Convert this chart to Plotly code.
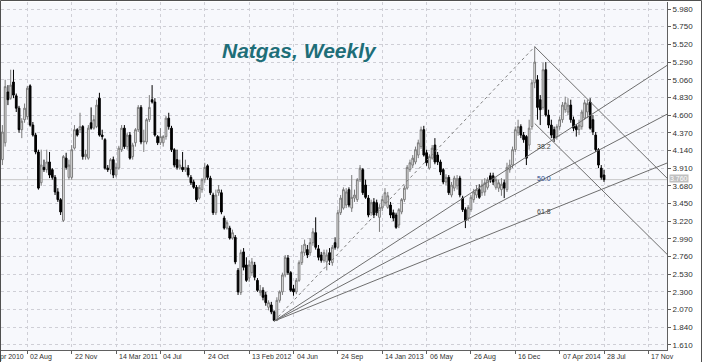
import plotly.graph_objects as go
import pandas as pd

# ---------------- data (weekly OHLC) ----------------
first_week = "2010-05-31"

opens = [4.02,4.24,4.90,4.82,5.03,4.85,4.69,4.41,4.54,4.58,4.98,4.47,4.34,4.12,3.72,3.92,3.89,3.99,3.89,3.79,
         3.60,3.50,3.23,4.04,3.79,3.79,4.17,4.41,4.41,4.45,4.06,4.04,4.50,4.43,4.45,4.82,4.34,4.28,3.91,3.89,
         4.02,3.82,3.91,4.15,4.43,4.19,4.34,4.06,4.24,4.41,4.70,4.25,4.25,4.54,4.80,4.77,4.32,4.24,4.24,4.32,
         4.56,4.43,4.15,4.02,3.91,3.92,3.89,3.91,3.79,3.73,3.66,3.52,3.63,3.76,3.94,3.78,3.56,3.33,3.59,3.59,
         3.26,3.13,3.13,3.00,3.01,2.58,2.29,2.82,2.65,2.48,2.55,2.65,2.45,2.29,2.32,2.26,2.10,2.13,2.04,1.93,
         2.19,2.30,2.52,2.74,2.55,2.34,2.30,2.45,2.68,2.81,2.85,2.81,2.94,3.07,2.86,2.78,2.71,2.69,2.81,2.68,
         2.94,2.88,3.33,3.39,3.43,3.63,3.39,3.52,3.50,3.76,3.89,3.69,3.52,3.33,3.47,3.46,3.27,3.39,3.46,3.40,
         3.43,3.33,3.30,3.17,3.34,3.50,3.65,3.89,3.95,3.99,4.08,4.19,4.41,4.11,3.91,4.04,4.21,4.08,3.99,3.89,
         3.73,3.79,3.56,3.65,3.68,3.78,3.52,3.37,3.26,3.37,3.50,3.56,3.63,3.59,3.60,3.66,3.81,3.81,3.66,3.65,
         3.63,3.72,3.63,3.89,3.95,4.15,4.37,4.45,4.34,4.32,4.21,4.45,5.02,5.06,4.80,4.70,5.19,4.60,4.47,4.41,
         4.32,4.45,4.54,4.67,4.64,4.73,4.54,4.45,4.41,4.45,4.56,4.64,4.77,4.54,4.34,4.15,3.91,3.82]

highs = [4.47,5.06,4.99,5.19,5.19,4.88,4.72,4.56,4.75,4.98,5.00,4.51,4.37,4.15,4.15,4.02,4.15,4.12,3.91,3.82,
         3.65,3.52,4.08,4.11,4.02,4.21,4.47,4.43,4.63,4.47,4.15,4.47,4.70,4.60,4.80,4.89,4.41,4.30,3.95,4.04,
         4.06,3.98,4.20,4.47,4.47,4.37,4.38,4.24,4.43,4.73,4.73,4.41,4.56,4.86,4.99,4.82,4.34,4.43,4.34,4.59,
         4.63,4.46,4.17,4.15,4.02,4.12,4.02,3.95,3.82,3.76,3.69,3.69,3.78,3.98,3.96,3.81,3.59,3.63,3.69,3.63,
         3.29,3.23,3.16,3.11,3.04,2.61,2.85,2.87,2.75,2.71,2.74,2.69,2.48,2.39,2.36,2.30,2.19,2.17,2.06,2.23,
         2.32,2.55,2.78,2.78,2.57,2.39,2.48,2.71,2.91,2.98,2.91,3.00,3.13,3.27,2.91,2.82,2.85,2.85,2.87,2.91,
         3.01,3.37,3.56,3.66,3.65,3.66,3.82,3.63,3.78,3.95,3.91,3.76,3.56,3.50,3.52,3.50,3.44,3.55,3.65,3.60,
         3.47,3.37,3.33,3.39,3.52,3.68,3.95,4.02,4.08,4.19,4.28,4.45,4.46,4.15,4.09,4.21,4.30,4.12,4.02,3.91,
         3.83,3.82,3.73,3.81,3.82,3.81,3.55,3.40,3.43,3.56,3.64,3.69,3.70,3.76,3.78,3.79,3.85,3.85,3.79,3.76,
         3.78,3.76,3.98,4.02,4.19,4.45,4.54,4.48,4.38,4.34,4.54,5.06,5.49,5.12,4.86,5.28,5.29,4.67,4.54,4.45,
         4.48,4.58,4.77,4.84,4.82,4.80,4.58,4.48,4.54,4.67,4.80,4.80,4.82,4.60,4.38,4.17,3.95,3.89]

lows = [3.95,4.19,4.73,4.80,4.82,4.64,4.37,4.30,4.50,4.54,4.45,4.32,4.09,3.63,3.68,3.86,3.85,3.78,3.76,3.56,
        3.47,3.30,3.21,3.89,3.76,3.76,4.15,4.32,4.37,4.02,4.02,4.02,4.41,4.41,4.43,4.32,4.28,3.89,3.86,3.83,
        3.78,3.79,3.89,4.12,4.16,4.15,4.02,4.02,4.19,4.38,4.22,4.12,4.22,4.51,4.75,4.32,4.21,4.21,4.19,4.28,
        4.41,4.12,3.92,3.89,3.89,3.86,3.86,3.79,3.69,3.64,3.47,3.50,3.59,3.72,3.76,3.56,3.30,3.30,3.55,3.31,
        3.11,3.11,2.98,2.98,2.66,2.26,2.26,2.58,2.43,2.43,2.51,2.45,2.30,2.25,2.19,2.12,2.06,2.01,1.92,1.92,
        2.16,2.26,2.49,2.52,2.30,2.25,2.27,2.43,2.65,2.77,2.74,2.77,2.90,2.85,2.71,2.68,2.68,2.58,2.65,2.64,
        2.85,2.86,3.30,3.37,3.39,3.40,3.34,3.47,3.47,3.73,3.56,3.51,3.27,3.29,3.26,3.29,3.08,3.35,3.42,3.38,
        3.26,3.22,3.12,3.13,3.31,3.47,3.63,3.86,3.91,3.96,4.04,4.16,4.06,3.94,3.89,4.02,3.96,3.95,3.82,3.70,
        3.69,3.56,3.53,3.61,3.63,3.53,3.34,3.13,3.22,3.34,3.46,3.52,3.51,3.55,3.55,3.63,3.72,3.69,3.63,3.60,
        3.55,3.52,3.60,3.85,3.91,4.12,4.33,4.30,4.24,3.95,4.15,4.41,4.95,4.54,4.47,4.67,4.58,4.43,4.30,4.25,
        4.28,4.41,4.50,4.63,4.60,4.50,4.39,4.32,4.34,4.41,4.54,4.56,4.41,4.34,4.12,3.91,3.76,3.73]

closes = [4.38,4.97,4.80,4.99,4.86,4.69,4.41,4.52,4.69,4.95,4.47,4.34,4.12,3.65,3.95,3.89,3.99,3.82,3.79,3.60,
          3.50,3.34,4.06,3.92,3.95,4.15,4.41,4.34,4.45,4.06,4.09,4.43,4.43,4.54,4.73,4.34,4.32,3.91,3.89,4.02,
          3.82,3.92,4.17,4.43,4.19,4.34,4.04,4.21,4.41,4.70,4.25,4.26,4.54,4.70,4.77,4.34,4.24,4.32,4.32,4.56,
          4.45,4.15,3.95,3.92,3.95,3.89,3.92,3.82,3.72,3.66,3.50,3.66,3.76,3.92,3.79,3.59,3.33,3.56,3.63,3.34,
          3.13,3.20,3.00,3.07,2.69,2.30,2.81,2.62,2.45,2.65,2.69,2.49,2.32,2.32,2.23,2.16,2.16,2.04,1.93,2.19,
          2.30,2.52,2.75,2.55,2.32,2.30,2.45,2.68,2.82,2.92,2.78,2.94,3.08,2.88,2.75,2.71,2.81,2.78,2.71,2.88,
          2.88,3.33,3.52,3.63,3.60,3.43,3.53,3.56,3.76,3.91,3.59,3.53,3.30,3.46,3.30,3.33,3.40,3.50,3.59,3.55,
          3.30,3.26,3.14,3.37,3.50,3.65,3.92,3.98,4.04,4.15,4.24,4.41,4.08,3.98,4.06,4.17,3.99,3.99,3.86,3.73,
          3.79,3.59,3.69,3.78,3.77,3.56,3.37,3.23,3.40,3.53,3.60,3.63,3.53,3.69,3.72,3.76,3.76,3.73,3.76,3.72,
          3.70,3.65,3.92,3.95,4.15,4.41,4.45,4.34,4.28,4.04,4.43,5.02,5.29,4.70,4.67,5.19,4.60,4.47,4.34,4.30,
          4.45,4.54,4.73,4.76,4.73,4.54,4.43,4.41,4.47,4.64,4.76,4.75,4.43,4.38,4.15,3.95,3.79,3.76]

# axis ticks
x_tick_dates = ["2010-04-12", "2010-08-02", "2010-11-22", "2011-03-14", "2011-07-04", "2011-10-24",
                "2012-02-13", "2012-06-04", "2012-09-24", "2013-01-14", "2013-05-06", "2013-08-26",
                "2013-12-16", "2014-04-07", "2014-07-28", "2014-11-17"]
x_tick_labels = ["12 Apr 2010", "02 Aug", "22 Nov", "14 Mar 2011", "04 Jul", "24 Oct",
                 "13 Feb 2012", "04 Jun", "24 Sep", "14 Jan 2013", "06 May", "26 Aug",
                 "16 Dec", "07 Apr 2014", "28 Jul", "17 Nov"]
y_ticks = [1.61, 1.84, 2.07, 2.30, 2.53, 2.76, 2.99, 3.22, 3.45, 3.68, 3.91, 4.14, 4.37,
           4.60, 4.83, 5.06, 5.29, 5.52, 5.75, 5.98]
x_range = ["2010-05-27 12:00", "2015-01-03"]
y_range = [1.544, 6.071]

# Fibonacci fan (from the 2012 low to the 2014 high)
fan_low_index, fan_low_price = 98, 1.92
fan_high_index, fan_high_price = 192, 5.49
fan_ratios = [0.382, 0.5, 0.618]
fan_labels = ["38.2", "50.0", "61.8"]
fan_label_colors = ["#404040", "#2a4a8a", "#404040"]

# descending channel from the high, ends at right edge
channel_start_prices = [5.49, 4.49]
channel_end_prices = [3.78, 2.79]

title_text = "Natgas, Weekly"

# ---------------- figure ----------------
assert len(opens) == len(highs) == len(lows) == len(closes)
dates = pd.date_range(first_week, periods=len(closes), freq="7D")

W, H = 702, 362
ml, mr, mt, mb = 1, 35, 2, 12
pw, ph = W - ml - mr, H - mt - mb
label_font = "Liberation Sans Narrow, Liberation Sans, Arial, sans-serif"

fig = go.Figure()
fig.add_trace(go.Candlestick(
    x=dates, open=opens, high=highs, low=lows, close=closes,
    increasing=dict(line=dict(color="#7a7a7a", width=1), fillcolor="#f2f2f2"),
    decreasing=dict(line=dict(color="#000000", width=1), fillcolor="#000000"),
    whiskerwidth=0, hoverinfo="skip", showlegend=False,
))

line_col = "#6e6e6e"
shapes = []
# current price line
shapes.append(dict(type="line", xref="paper", x0=0, x1=1, yref="y", y0=closes[-1], y1=closes[-1],
                   line=dict(color="#c8c8c8", width=1), layer="below"))

t_low = dates[fan_low_index]
t_high = dates[fan_high_index]
t_end = pd.Timestamp(x_range[1])
span_days = (t_high - t_low) / pd.Timedelta(days=1)
end_days = (t_end - t_low) / pd.Timedelta(days=1)

# dotted trend line low -> high
shapes.append(dict(type="line", xref="x", yref="y", x0=t_low, y0=fan_low_price, x1=t_high, y1=fan_high_price,
                   line=dict(color="#808080", width=1, dash="dot")))

annotations = []
for r, lab, lc in zip(fan_ratios, fan_labels, fan_label_colors):
    level = fan_high_price - r * (fan_high_price - fan_low_price)
    y_end = fan_low_price + (level - fan_low_price) * end_days / span_days
    shapes.append(dict(type="line", xref="x", yref="y", x0=t_low, y0=fan_low_price, x1=t_end, y1=y_end,
                       line=dict(color=line_col, width=1)))
    annotations.append(dict(x=t_high, y=level, xref="x", yref="y", text=lab, showarrow=False,
                            xanchor="left", yanchor="middle", xshift=0, yshift=5,
                            font=dict(family=label_font, size=7, color=lc)))

for p0, p1 in zip(channel_start_prices, channel_end_prices):
    shapes.append(dict(type="line", xref="x", yref="y", x0=t_high, y0=p0, x1=t_end, y1=p1,
                       line=dict(color=line_col, width=1)))

# outer frame
shapes.append(dict(type="rect", xref="paper", yref="paper",
                   x0=(0.5 - ml) / pw, x1=(W - 0.5 - ml) / pw,
                   y0=(mb - H + 0.5) / ph + 0, y1=1 + (mt - 0.5) / ph,
                   line=dict(color="#505050", width=1)))

# date labels, left aligned at their ticks (paper coords so a label whose tick is
# left of the visible range still shows its cut-off tail)
r0, r1 = pd.Timestamp(x_range[0]), pd.Timestamp(x_range[1])
for d, lab in zip(x_tick_dates, x_tick_labels):
    xp = (pd.Timestamp(d) - r0) / (r1 - r0)
    annotations.append(dict(x=xp, y=0, xref="paper", yref="paper", text=lab, showarrow=False,
                            xanchor="left", yanchor="top", xshift=1, yshift=-1,
                            font=dict(family=label_font, size=7, color="#303030")))

# title
annotations.append(dict(x=(299 - ml) / pw, y=1 - (50 - mt) / ph, xref="paper", yref="paper",
                        text="<b><i>" + title_text + "</i></b>", showarrow=False,
                        xanchor="center", yanchor="middle",
                        font=dict(family="Liberation Sans", size=21, color="#1e6e78")))

# last price tag on the axis
annotations.append(dict(x=1, y=closes[-1], xref="paper", yref="y", text=f"{closes[-1]:.3f}",
                        showarrow=False, xanchor="left", yanchor="middle", xshift=2, yshift=1,
                        bgcolor="#c0c0c0", font=dict(family=label_font, size=7, color="#ffffff"),
                        borderpad=0))

fig.update_layout(
    width=W, height=H,
    margin=dict(l=ml, r=mr, t=mt, b=mb, pad=0),
    paper_bgcolor="#ffffff", plot_bgcolor="#f7f8fc",
    boxgap=0.12,
    shapes=shapes, annotations=annotations,
    xaxis=dict(type="date", range=x_range, rangeslider=dict(visible=False),
               tickvals=x_tick_dates, showticklabels=False, ticks="outside", ticklen=3,
               tickcolor="#606060", showline=True, linecolor="#606060", linewidth=1,
               showgrid=True, gridcolor="#cfcfd6", griddash="dot", gridwidth=1, zeroline=False),
    yaxis=dict(side="right", range=y_range, tickvals=y_ticks,
               ticktext=[f"{v:.3f}" for v in y_ticks],
               ticks="outside", ticklen=3, tickcolor="#606060",
               showline=True, linecolor="#606060", linewidth=1,
               tickfont=dict(family="Liberation Sans", size=8, color="#303030"),
               showgrid=True, gridcolor="#cfcfd6", griddash="dot", gridwidth=1, zeroline=False),
)

fig.write_html("out.html", config={"displayModeBar": False},
               post_script="document.body.style.margin='0';document.body.style.overflow='hidden';")
